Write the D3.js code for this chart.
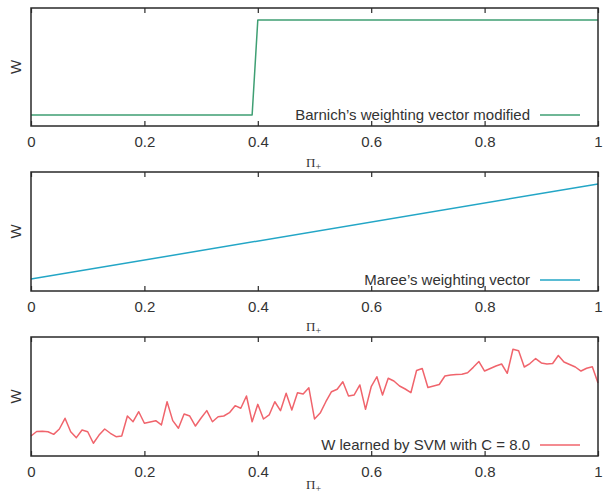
<!DOCTYPE html>
<html>
<head>
<meta charset="utf-8">
<script src="https://cdn.jsdelivr.net/npm/d3@7"></script>
<style>
  body { margin: 0; background: #fff; }
  text { font-family: "Liberation Sans", Arial, sans-serif; fill: #333; }
</style>
</head>
<body>
<div class="canvas"></div>
<script>
const width = 603;
const height = 495;

// x ticks shared by all three panels
const xTicks = [0, 0.2, 0.4, 0.6, 0.8, 1];

// panel 1: Barnich's weighting vector (step)
const barnichX = [0, 0.39, 0.40, 1];
const barnichW = [0.093, 0.093, 0.898, 0.898];

// panel 2: Maree's weighting vector (linear)
const mareeX = [0, 1];
const mareeW = [0.10, 0.90];

// panel 3: W learned by SVM, one value every 0.01
const svmW = [
  0.168, 0.206, 0.208, 0.204, 0.182, 0.227, 0.317, 0.204, 0.154, 0.218,
  0.204, 0.107, 0.176, 0.227, 0.191, 0.162, 0.168, 0.336, 0.288, 0.372,
  0.275, 0.286, 0.297, 0.261, 0.456, 0.297, 0.233, 0.353, 0.336, 0.252,
  0.319, 0.381, 0.288, 0.330, 0.336, 0.364, 0.423, 0.401, 0.504, 0.288,
  0.434, 0.311, 0.345, 0.456, 0.381, 0.527, 0.387, 0.532, 0.521, 0.574,
  0.311, 0.361, 0.456, 0.540, 0.561, 0.624, 0.504, 0.513, 0.597, 0.392,
  0.582, 0.666, 0.513, 0.653, 0.630, 0.588, 0.563, 0.532, 0.718, 0.735,
  0.576, 0.588, 0.601, 0.672, 0.681, 0.685, 0.687, 0.700, 0.745, 0.794,
  0.714, 0.735, 0.756, 0.773, 0.695, 0.897, 0.885, 0.748, 0.777, 0.819,
  0.782, 0.773, 0.777, 0.845, 0.790, 0.769, 0.748, 0.714, 0.737, 0.750,
  0.613
];
const svmX = svmW.map((d, i) => i / 100);

const panels = [
  { xs: barnichX, ys: barnichW, label: "Barnich\u2019s weighting vector modified", color: "#3f9f73", top: 8, bottom: 126, labelY: 167 },
  { xs: mareeX, ys: mareeW, label: "Maree\u2019s weighting vector", color: "#23a6c6", top: 172, bottom: 291, labelY: 331 },
  { xs: svmX, ys: svmW, label: "W learned by SVM with C = 8.0", color: "#f0646c", top: 337, bottom: 456, labelY: 489 }
];

const svg = d3.select(".canvas")
  .append("svg")
  .attr("width", width)
  .attr("height", height);

const xScale = d3.scaleLinear().domain([0, 1]).range([31, 598]);

panels.forEach(p => {
  const yScale = d3.scaleLinear().domain([0, 1]).range([p.bottom, p.top]);
  const g = svg.append("g");

  // bottom axis, ticks pointing inward
  const bottomAxis = g.append("g")
    .attr("transform", `translate(0, ${p.bottom})`)
    .call(d3.axisBottom(xScale).tickValues(xTicks).tickFormat(d3.format("")).tickSize(-5).tickPadding(10));

  // mirrored ticks on top
  const topAxis = g.append("g")
    .attr("transform", `translate(0, ${p.top})`)
    .call(d3.axisTop(xScale).tickValues(xTicks).tickFormat("").tickSize(-5));

  [bottomAxis, topAxis].forEach(a => {
    a.select(".domain").remove();
    a.selectAll("line").attr("stroke", "#2a2a2a").attr("stroke-width", 1.2);
  });
  bottomAxis.selectAll("text")
    .style("font-size", "15px")
    .style("font-family", "'Liberation Sans', Arial, sans-serif")
    .attr("fill", "#333");

  // line
  const line = d3.line()
    .x((d, i) => xScale(p.xs[i]))
    .y(d => yScale(d));

  g.append("path")
    .datum(p.ys)
    .attr("fill", "none")
    .attr("stroke", p.color)
    .attr("stroke-width", 1.5)
    .attr("stroke-linejoin", "round")
    .attr("d", line);

  // frame
  g.append("rect")
    .attr("x", xScale(0))
    .attr("y", p.top)
    .attr("width", xScale(1) - xScale(0))
    .attr("height", p.bottom - p.top)
    .attr("fill", "none")
    .attr("stroke", "#2a2a2a")
    .attr("stroke-width", 1.5);

  // legend
  const ly = p.bottom - 11;
  g.append("text")
    .attr("x", 530)
    .attr("y", ly)
    .attr("dy", "0.35em")
    .attr("text-anchor", "end")
    .style("font-size", "15px")
    .text(p.label);
  g.append("line")
    .attr("x1", 540)
    .attr("x2", 580)
    .attr("y1", ly)
    .attr("y2", ly)
    .attr("stroke", p.color)
    .attr("stroke-width", 1.5);

  // y label
  g.append("text")
    .attr("transform", `translate(21, ${(p.top + p.bottom) / 2}) rotate(-90)`)
    .attr("text-anchor", "middle")
    .style("font-size", "15px")
    .text("W");

  // x label
  const xl = g.append("text")
    .attr("x", 306)
    .attr("y", p.labelY)
    .style("font-family", "'Liberation Serif', 'DejaVu Serif', serif")
    .style("font-size", "13px");
  xl.append("tspan").text("\u03A0");
  xl.append("tspan").attr("dy", 3).style("font-size", "10px").text("+");
});
</script>
</body>
</html>
